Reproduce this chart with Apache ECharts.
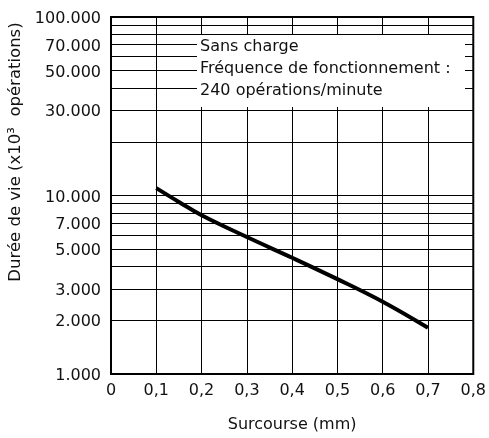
<!DOCTYPE html>
<html>
<head>
<meta charset="utf-8">
<script src="https://cdn.jsdelivr.net/npm/echarts@6/dist/echarts.min.js"></script>
<style>
html,body{margin:0;padding:0;background:#fff;}
#chart{width:489px;height:438px;}
</style>
</head>
<body>
<div id="chart"></div>
<script>
// Data
const strokeMm = [0.1, 0.15, 0.2, 0.3, 0.4, 0.5, 0.6, 0.7];
const lifeOps = [11000, 9200, 7750, 5850, 4480, 3400, 2540, 1815];
const yGridValues = [2000, 3000, 4000, 5000, 6000, 7000, 8000, 9000, 10000,
  20000, 30000, 40000, 50000, 60000, 70000, 80000, 90000];
const yLabelValues = [1000, 2000, 3000, 5000, 7000, 10000, 30000, 50000, 70000, 100000];
const noteLines = ['Sans charge', 'Fréquence de fonctionnement :', '240 opérations/minute'];
const xTitle = 'Surcourse (mm)';
const yTitle = 'Durée de vie (x10³  opérations)';

const FONT = 'DejaVu Sans';
const fmtThousands = v => String(Math.round(v)).replace(/\B(?=(\d{3})+(?!\d))/g, '.');

const allLineValues = Array.from(new Set(yGridValues.concat(yLabelValues))).sort((a, b) => a - b);
const markData = allLineValues.map(v => {
  const labeled = yLabelValues.indexOf(v) >= 0;
  const isEdge = (v === 1000 || v === 100000);
  return {
    yAxis: v,
    lineStyle: { width: 1, color: isEdge ? 'rgba(0,0,0,0)' : '#000', type: 'solid' },
    label: {
      show: labeled,
      position: 'start',
      distance: 10,
      formatter: fmtThousands(v),
      color: '#111',
      fontFamily: FONT,
      fontSize: 16,
      offset: [0, 2]
    }
  };
});

const chart = echarts.init(document.getElementById('chart'), null, { renderer: 'canvas' });
chart.setOption({
  animation: false,
  backgroundColor: '#fff',
  grid: {
    left: 111, right: 14, top: 17, bottom: 61,
    show: true, borderColor: '#000', borderWidth: 2, backgroundColor: 'transparent'
  },
  xAxis: {
    type: 'value',
    min: 0, max: 0.8, interval: 0.1,
    axisLine: { show: false },
    axisTick: { show: false },
    splitLine: { show: true, lineStyle: { color: '#000', width: 1 } },
    axisLabel: {
      color: '#111', fontFamily: FONT, fontSize: 16, margin: 9,
      formatter: v => (Math.abs(v) < 1e-9 ? '0' : v.toFixed(1).replace('.', ','))
    },
    name: xTitle,
    nameLocation: 'middle',
    nameGap: 43,
    nameTextStyle: { color: '#111', fontFamily: FONT, fontSize: 16 }
  },
  yAxis: {
    type: 'log',
    logBase: 10,
    min: 1000, max: 100000,
    axisLine: { show: false },
    axisTick: { show: false },
    axisLabel: { show: false },
    splitLine: { show: false }
  },
  graphic: [
    {
      type: 'rect',
      left: 197, top: 35,
      shape: { width: 268, height: 72 },
      style: { fill: '#fff' },
      z: 100
    },
    ...noteLines.map((t, i) => ({
      type: 'text',
      left: 200, top: 48 + i * 22 - 9,
      style: { text: t, fill: '#111', font: '16px "' + FONT + '"' },
      z: 101
    })),
    {
      type: 'text',
      x: 16, y: 152,
      rotation: Math.PI / 2,
      style: { text: yTitle, fill: '#111', font: '16.5px "' + FONT + '"', textAlign: 'center', textVerticalAlign: 'middle' },
      z: 101
    }
  ],
  series: [
    {
      type: 'line',
      data: strokeMm.map((x, i) => [x, lifeOps[i]]),
      smooth: 0.4,
      showSymbol: false,
      lineStyle: { color: '#000', width: 4 },
      z: 5,
      markLine: {
        silent: true,
        symbol: ['none', 'none'],
        animation: false,
        data: markData,
        lineStyle: { color: '#000', width: 1, type: 'solid' }
      }
    }
  ]
});
</script>
</body>
</html>
